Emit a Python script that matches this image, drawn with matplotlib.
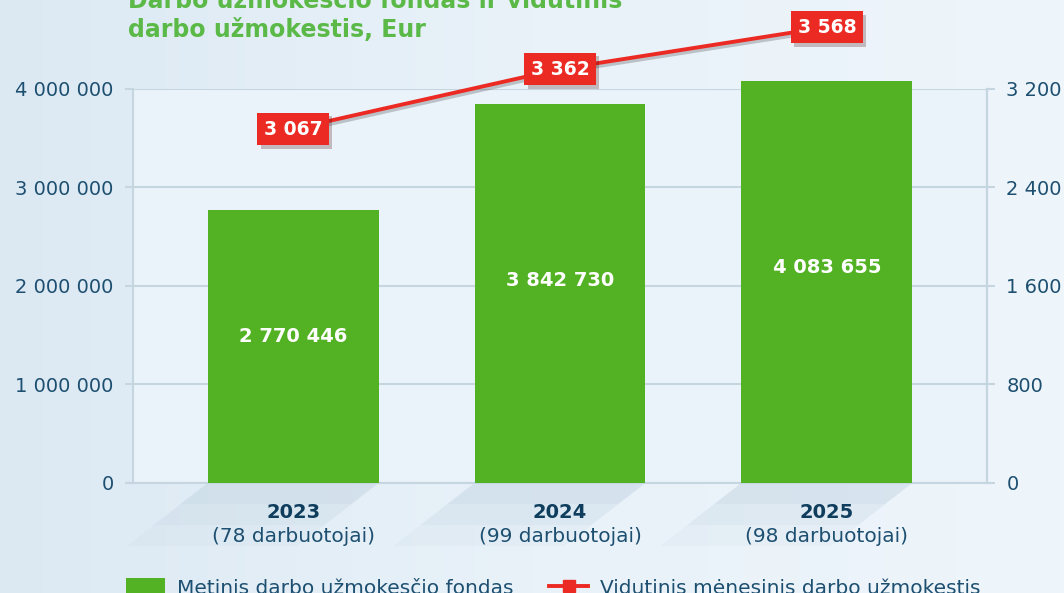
import matplotlib
matplotlib.use("Agg")
import matplotlib.pyplot as plt
import matplotlib.patheffects as pe
from matplotlib.patches import Polygon, Rectangle
from matplotlib.lines import Line2D
import numpy as np

years = ["2023", "2024", "2025"]
staff = ["(78 darbuotojai)", "(99 darbuotojai)", "(98 darbuotojai)"]
fund = [2770446, 3842730, 4083655]
avg_wage = [3067, 3362, 3568]
left_ticks = [0, 1000000, 2000000, 3000000, 4000000]
right_ticks = [0, 800, 1600, 2400, 3200]
title_lines = ["Darbo užmokesčio fondas ir vidutinis", "darbo užmokestis, Eur"]
legend_labels = ["Metinis darbo užmokesčio fondas", "Vidutinis mėnesinis darbo užmokestis"]

GREEN = "#52b224"
RED = "#ec2a24"
TXT = "#1d4f70"
DARK = "#0e3d5e"
TITLE = "#5bb947"
GRID = "#c6d6e1"

def fmt(v):
    return f"{int(v):,}".replace(",", " ")

plt.rcParams["font.family"] = ["DejaVu Sans"]
fig = plt.figure(figsize=(10.64, 5.93), dpi=100)

# background gradient
bg = fig.add_axes([0, 0, 1, 1], zorder=-10)
grad = np.linspace(0, 1, 256)[None, :]
cmap = matplotlib.colors.LinearSegmentedColormap.from_list("bg", ["#dce9f3", "#e9f2f9", "#eef5fb"])
bg.imshow(grad, aspect="auto", cmap=cmap, extent=[0, 1, 0, 1])
bg.set_axis_off()

ax = fig.add_axes([0.125, 0.1855, 0.8026, 0.6645])
ax.set_facecolor("#eaf3f9")
x = np.arange(len(years))
bars = ax.bar(x, fund, width=0.64, color=GREEN, zorder=3)
for b in bars:
    b.set_clip_on(False)
ax.set_xlim(-0.6, 2.6)
ax.set_ylim(0, 4000000)
ax.set_yticks(left_ticks)
ax.set_yticklabels([fmt(v) for v in left_ticks], color=TXT, fontsize=14)
ax.tick_params(axis="y", length=6, color=GRID, width=1.5, pad=8)
ax.tick_params(axis="x", length=0)
ax.set_xticks(x)
ax.set_xticklabels([])
ax.grid(axis="y", color=GRID, linewidth=1.5, zorder=0)
ax.spines["top"].set_visible(False)
for s in ["left", "right", "bottom"]:
    ax.spines[s].set_color(GRID)
    ax.spines[s].set_linewidth(1.5)

# shadows below bars
trans = matplotlib.transforms.blended_transform_factory(ax.transData, ax.transAxes)
for xi in x:
    for k, a in enumerate([0.25, 0.2, 0.15]):
        d = 0.16 * (k + 1) / 3
        poly = Polygon([(xi - 0.32, 0), (xi + 0.32, 0), (xi + 0.32 - 1.9 * d, -d), (xi - 0.32 - 1.9 * d, -d)],
                       closed=True, transform=trans, facecolor="#c3d5e3", alpha=a,
                       edgecolor="none", clip_on=False, zorder=1)
        ax.add_patch(poly)

for xi, v in zip(x, fund):
    ax.text(xi, v * 0.535, fmt(v), ha="center", va="center", color="white",
            fontsize=14, fontweight="bold", zorder=5)

for xi, yr, st in zip(x, years, staff):
    ax.text(xi, -0.075, yr, transform=trans, ha="center", va="center",
            fontsize=14, fontweight="bold", color=DARK)
    ax.text(xi, -0.135, st, transform=trans, ha="center", va="center",
            fontsize=14.5, color=TXT)

ax2 = ax.twinx()
ax2.set_ylim(0, 3200)
ax2.set_yticks(right_ticks)
ax2.set_yticklabels([fmt(v) for v in right_ticks], color=TXT, fontsize=14)
ax2.tick_params(axis="y", length=6, color=GRID, width=1.5, pad=8)
for s in ["top", "left", "bottom"]:
    ax2.spines[s].set_visible(False)
ax2.spines["right"].set_color(GRID)
ax2.spines["right"].set_linewidth(1.5)

# line on its own hidden scale
ax3 = ax.twinx()
ax3.set_ylim(1327, 3264)
ax3.set_axis_off()
ax3.plot(x, avg_wage, color=RED, linewidth=2.8, marker="s", markersize=9,
         clip_on=False, zorder=6,
         path_effects=[pe.SimpleLineShadow(offset=(1.5, -2), alpha=0.2), pe.Normal()])
for xi, v in zip(x, avg_wage):
    t = ax3.text(xi, v, fmt(v), ha="center", va="center", color="white", fontsize=13.5,
                 fontweight="bold", zorder=8, clip_on=False,
                 bbox=dict(boxstyle="square,pad=0.35", facecolor=RED, edgecolor="none"))
    t.get_bbox_patch().set_path_effects([pe.SimplePatchShadow(offset=(2.5, -2.5), alpha=0.25), pe.Normal()])

# title
fig.text(128 / 1064, 1 - 8 / 593, title_lines[0], fontsize=17, fontweight="bold",
         color=TITLE, ha="left", va="baseline")
fig.text(128 / 1064, 1 - 37 / 593, title_lines[1], fontsize=17, fontweight="bold",
         color=TITLE, ha="left", va="baseline")

# legend
h1 = Rectangle((0, 0), 1, 1, facecolor=GREEN, edgecolor="none")
h2 = Line2D([], [], color=RED, linewidth=2.8, marker="s", markersize=9)
fig.legend([h1, h2], legend_labels, loc="center left", bbox_to_anchor=(126 / 1064, 1 - 588 / 593),
           ncol=2, frameon=False, fontsize=14.5, labelcolor=TXT, handlelength=1.95,
           handleheight=0.9, columnspacing=1.75, handletextpad=0.6, borderpad=0,
           borderaxespad=0)

fig.savefig("out.png", dpi=100)
